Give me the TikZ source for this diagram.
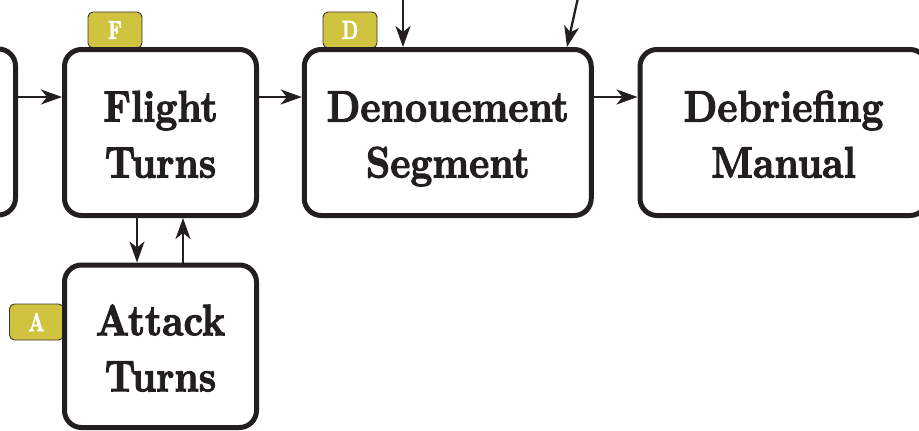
\documentclass[tikz,border=0pt]{standalone}
\usepackage{fontspec}
\usetikzlibrary{arrows.meta}
\definecolor{ink}{HTML}{231F20}
\definecolor{tagfill}{HTML}{CFC33F}
\definecolor{tagline}{HTML}{3A3530}
% heavy display face for the stage names and tags
\newfontfamily\heavyface{lmroman10-bold.otf}[FakeBold=2.5]
% narrowed lettering for the stage boxes and the tags
\newcommand{\stagelabel}[1]{\scalebox{0.87}[1]{\begin{tabular}[t]{@{}c@{}}#1\end{tabular}}}
\newcommand{\taglabel}[1]{\scalebox{0.72}[1]{#1}}

\begin{document}
\begin{tikzpicture}[x=1pt,y=-1pt,
  stage/.style={draw=ink, line width=5pt, rounded corners=17pt, fill=white,
    text=ink, font=\heavyface\fontsize{44}{56}\selectfont, inner sep=0pt,
    minimum width=192pt, minimum height=166pt,
    text height=30pt, text depth=52pt},
  widestage/.style={stage, minimum width=287pt},
  tagbox/.style={draw=tagline, line width=0.9pt, rounded corners=5pt,
    fill=tagfill, text=white, font=\heavyface\fontsize{26}{30}\selectfont,
    inner sep=0pt, minimum width=54pt, minimum height=36pt},
  flow/.style={draw=ink, line width=2.3pt,
    -{Stealth[length=21pt,width=15pt,inset=6pt]}}
]
\useasboundingbox (0,0) rectangle (919,431);
\clip (0,0) rectangle (919,431);

% stage tags (drawn first so the boxes sit on top of them)
\node[tagbox] (tagF) at (115,30) {\taglabel{F}};
\node[tagbox] (tagD) at (350,30) {\taglabel{D}};
\node[tagbox] (tagA) at (36.5,322) {\taglabel{A}};

% stages
\node[stage] (prev) at (-80.5,132) {};
\node[stage] (flight) at (160.5,132.5) {\stagelabel{Flight\\Turns}};
\node[widestage] (denoue) at (447.75,132.5) {\stagelabel{Denouement\\Segment}};
\node[widestage] (debrief) at (783.5,132.5) {\stagelabel{Debriefing\\Manual}};
\node[stage, minimum height=162.5pt] (attack) at (160.5,346.25) {\stagelabel{Attack\\Turns}};

% guide coordinates for the connectors
\coordinate (row) at (0,97);
\coordinate (downcol) at (137,0);
\coordinate (upcol) at (183,0);
\coordinate (srcA) at (403,-5);
\coordinate (srcB) at (578.6,-5);
\coordinate (tipB) at (567,0);

% connectors
\draw[flow] (prev.east |- row) -- (flight.west |- row);
\draw[flow] (flight.east |- row) -- (denoue.west |- row);
\draw[flow] (denoue.east |- row) -- (debrief.west |- row);
\draw[flow] (flight.south -| downcol) -- (attack.north -| downcol);
\draw[flow] (attack.north -| upcol) -- (flight.south -| upcol);
\draw[flow] (srcA) -- (denoue.north -| srcA);
\draw[flow] (srcB) -- (denoue.north -| tipB);
\end{tikzpicture}
\end{document}
